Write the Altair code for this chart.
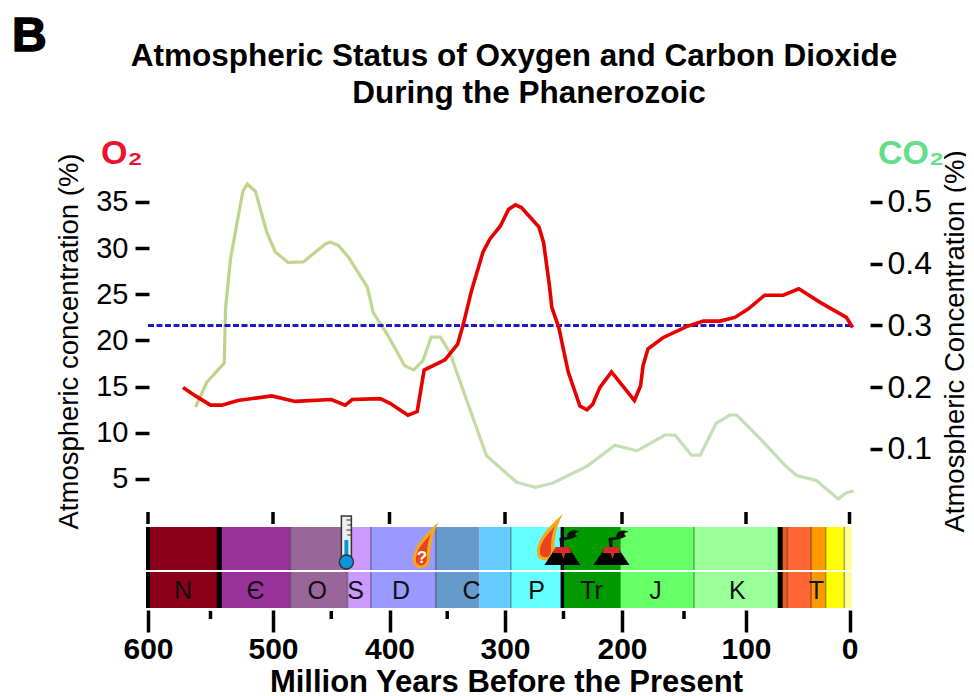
import altair as alt
import pandas as pd

FONT = "Liberation Sans"

# ---- series (million years ago, percent) ----
o2_age = [572,562,550,541,528,501,481,450,438,432,408,399.5,384,376,370,352,341,336,329,319,313,304,297,291,286,271,267,262,260,254,246,236,230,225,219,209,190,185,183,179,167,148,134.5,121,109,98,82,64,49,28,3,-3.7]
o2_val = [14.9,14.0,13.0,13.0,13.5,14.0,13.4,13.6,13.0,13.6,13.7,13.2,11.9,12.3,16.8,17.9,19.6,21.8,25.4,29.6,31.0,32.4,34.2,34.7,34.4,32.3,30.6,25.9,23.6,21.4,16.6,12.9,12.5,13.1,14.9,16.6,13.5,15.1,17.3,19.1,20.3,21.5,22.1,22.1,22.5,23.4,24.9,24.9,25.6,24.1,22.5,21.4]
co2_age = [562,553,539,538,534,529,524,520.5,514,505,498,487,474,455,451,444,435,419,414,402,387,379,371,364,356,348,316,290,274,259,230,206,188,165,157,144,137,124,113,107.5,86,62,51,32,11,3,-5]
co2_val = [.168,.208,.239,.327,.408,.464,.518,.529,.517,.451,.419,.402,.403,.432,.435,.430,.410,.362,.321,.286,.235,.228,.243,.281,.281,.257,.089,.046,.038,.045,.072,.106,.097,.123,.122,.090,.090,.142,.155,.155,.116,.073,.057,.049,.019,.029,.032]
ref_age = [600, -5]
ref_val = [0.3, 0.3]

# ---- geologic time scale ----
edges = [602,543,485,436,416,360,322,295,251,201,142,67,60,37,23,5,-3]
fills = ["#8a0018","#993399","#996699","#cc99ff","#9999ff","#6699cc","#66ccff","#66ffff","#009900","#66ff66","#99ff99","#e65c20","#ff6633","#ff9900","#ffff00","#ffff99"]
letters = ["N","Є","O","S","D","C","P","Tr","J","K","T"]
letter_age = [572,514,462,429,390,329,273,226,173,107,32]
thick_age = [600,543,251,67]
thick_w = [4,5,3.5,5]
thin_age = [485,436,416,360,295,142,60,37,23,5]

major = [600,500,400,300,200,100,0]
minor = [550,450,350,250,150]
o2_ticks = [5,10,15,20,25,30,35]
co2_ticks = [0.1,0.2,0.3,0.4,0.5]
title_lines = ["Atmospheric Status of Oxygen and Carbon Dioxide","During the Phanerozoic"]

x_scale = alt.Scale(domain=[602,600,500,400,300,200,100,0,-3],
                    range=[0,2,127,243.5,359,476,600,703.5,706],
                    nice=False, zero=False)
o2_scale = alt.Scale(domain=[2.29,37.49], nice=False, zero=False)
co2_scale = alt.Scale(domain=[0.0109,0.5372], nice=False, zero=False)
band = alt.Scale(domain=[0,1], nice=False, zero=False)

W, H1, H2 = 706, 325, 81

green = alt.Gradient(gradient="linear", x1=0, x2=1, y1=0, y2=0,
    stops=[alt.GradientStop(color="#bdd387", offset=0),
           alt.GradientStop(color="#c0d892", offset=0.35),
           alt.GradientStop(color="#c2dfb6", offset=0.5),
           alt.GradientStop(color="#c2dfb6", offset=1)])

co2_line = alt.Chart(pd.DataFrame({"age":co2_age,"v":co2_val})).mark_line(color=green, strokeWidth=3.2).encode(
    x=alt.X("age:Q", scale=x_scale, axis=None),
    y=alt.Y("v:Q", scale=co2_scale, axis=alt.Axis(
        orient="right", values=co2_ticks, format=".1f", grid=False, domain=False,
        offset=18, tickSize=12, tickWidth=3.5, tickColor="#000",
        labelFont=FONT, labelFontSize=32, labelColor="#000", labelPadding=5,
        title="Atmospheric Concentration (%)", titleFont=FONT, titleFontSize=27.5,
        titleFontWeight="normal", titleColor="#000", titleX=99, titleY=162, titleAngle=270)))

ref_line = alt.Chart(pd.DataFrame({"age":ref_age,"v":ref_val})).mark_line(color="#1a1ac8", strokeWidth=3, strokeDash=[6,2.5]).encode(
    x=alt.X("age:Q", scale=x_scale, axis=None),
    y=alt.Y("v:Q", scale=co2_scale, axis=None))

o2_line = alt.Chart(pd.DataFrame({"age":o2_age,"v":o2_val})).mark_line(color="#e60000", strokeWidth=3.6).encode(
    x=alt.X("age:Q", scale=x_scale, axis=None),
    y=alt.Y("v:Q", scale=o2_scale, axis=alt.Axis(
        orient="left", values=o2_ticks, grid=False, domain=False,
        offset=-3, tickSize=14, tickWidth=3.5, tickColor="#000",
        labelFont=FONT, labelFontSize=29, labelColor="#000", labelPadding=7,
        title="Atmospheric concentration (%)", titleFont=FONT, titleFontSize=27.5,
        titleFontWeight="normal", titleColor="#000", titleX=-66, titleY=162, titleAngle=270)))

o2_lab = alt.Chart(pd.DataFrame({"t":["O₂"]})).mark_text(font=FONT, fontSize=34, fontWeight="bold", color="#ee1133", align="left", baseline="middle").encode(
    text="t:N", x=alt.value(-45), y=alt.value(-25))
co2_lab = alt.Chart(pd.DataFrame({"t":["CO₂"]})).mark_text(font=FONT, fontSize=34, fontWeight="bold", color="#66dd88", align="left", baseline="middle").encode(
    text="t:N", x=alt.value(732), y=alt.value(-25))
b_lab = alt.Chart(pd.DataFrame({"t":["B"]})).mark_text(font=FONT, fontSize=48, fontWeight="bold", stroke="#000", strokeWidth=1.5, color="#000", align="left", baseline="middle").encode(
    text="t:N", x=alt.value(-134), y=alt.value(-142))
t1 = alt.Chart(pd.DataFrame({"t":title_lines[:1]})).mark_text(font=FONT, fontSize=31.5, fontWeight="bold", color="#000", baseline="middle").encode(
    text="t:N", x=alt.value(368), y=alt.value(-122))
t2 = alt.Chart(pd.DataFrame({"t":title_lines[1:]})).mark_text(font=FONT, fontSize=31.5, fontWeight="bold", color="#000", baseline="middle").encode(
    text="t:N", x=alt.value(383), y=alt.value(-85))

main = alt.layer(co2_line, ref_line, o2_line, o2_lab, co2_lab, b_lab, t1, t2).resolve_scale(y="independent").properties(
    width=W, height=H1)

# ---- time-scale strip ----
rect_df = pd.DataFrame({"a":edges[:-1],"b":edges[1:],"f":fills,"y0":[0]*len(fills),"y1":[1]*len(fills)})
rects = alt.Chart(rect_df).mark_rect().encode(
    x=alt.X("a:Q", scale=x_scale, axis=alt.Axis(
        values=major, format="d", grid=False, domain=False, offset=2, orient="bottom",
        tickSize=22, tickWidth=3.5, tickColor="#000",
        labelFont=FONT, labelFontSize=30, labelFontWeight="bold", labelColor="#000", labelPadding=2, labelFlush=False,
        title="Million Years Before the Present", titleFont=FONT, titleFontSize=31, titleFontWeight="bold",
        titleColor="#000", titleX=360, titleY=72, titleBaseline="middle")),
    x2="b:Q",
    y=alt.Y("y0:Q", scale=band, axis=None), y2="y1:Q",
    color=alt.Color("f:N", scale=None))

thin = alt.Chart(pd.DataFrame({"age":thin_age})).mark_rule(color="#000", opacity=0.35, strokeWidth=1.5).encode(
    x=alt.X("age:Q", scale=x_scale, axis=None), y=alt.value(0), y2=alt.value(H2))
thick = alt.Chart(pd.DataFrame({"age":thick_age,"w":thick_w})).mark_rule(color="#000").encode(
    x=alt.X("age:Q", scale=x_scale, axis=None), y=alt.value(0), y2=alt.value(H2),
    strokeWidth=alt.StrokeWidth("w:Q", scale=None))
white = alt.Chart(pd.DataFrame({"v":[0.457]})).mark_rule(color="#ffffff", strokeWidth=2).encode(
    y=alt.Y("v:Q", scale=band, axis=None))
text = alt.Chart(pd.DataFrame({"t":letters,"age":letter_age,"v":[0.21]*len(letters)})).mark_text(
    font=FONT, fontSize=25, color="#111", baseline="middle").encode(
    text="t:N", x=alt.X("age:Q", scale=x_scale, axis=None), y=alt.Y("v:Q", scale=band, axis=None))
top_ticks = alt.Chart(pd.DataFrame({"age":major})).mark_rule(color="#000", strokeWidth=3.5).encode(
    x=alt.X("age:Q", scale=x_scale, axis=None), y=alt.value(-15), y2=alt.value(-3))
min_ticks = alt.Chart(pd.DataFrame({"age":minor})).mark_rule(color="#000", strokeWidth=3.5).encode(
    x=alt.X("age:Q", scale=x_scale, axis=None), y=alt.value(H2+3), y2=alt.value(H2+11))

def icon(age, level, path, fill, stroke=None, sw=0):
    kw = {"stroke": stroke, "strokeWidth": sw} if stroke else {"strokeWidth": 0}
    return alt.Chart(pd.DataFrame({"age":age,"v":level})).mark_point(
        shape=path, size=4, filled=True, fill=fill, opacity=1, **kw).encode(
        x=alt.X("age:Q", scale=x_scale, axis=None),
        y=alt.Y("v:Q", scale=band, axis=None))

TUBE = "M-5,-46 L5,-46 L5,0 L-5,0 Z"
MERC = "M-2,-22 L2,-22 L2,0 L-2,0 Z"
BULB = "M-7,0 A7,7 0 1,0 7,0 A7,7 0 1,0 -7,0 Z"
MARKS = "M0,-42 L5,-42 M1,-37 L5,-37 M0,-32 L5,-32 M1,-27 L5,-27"
C_OUT = "M-9,5 C-10,-8 4,-23 17,-34 C9,-20 9,-8 8,4 C6,15 -8,15 -9,5 Z"
C_IN = "M-6,5 C-7,-6 3,-15 9,-22 C5,-12 5,-4 5,4 C4,11 -5,11 -6,5 Z"
V_BODY = "M-18,0 L-6,-18 L6,-18 L18,0 Z"
V_LAVA = "M-7,-18 L7,-18 L9,-12 L3,-12 L1,-6 L-1,-12 L-9,-12 Z"
V_SMOKE = "M-2,-18 L-3,-27 L5,-28 C4,-34 12,-36 17,-33 C12,-33 12,-30 15,-29 C10,-26 4,-25 1,-25 L1,-18 Z"

therm_age, therm_v = [437], [0.568]
comet_age, comet_v = [372, 265], [0.642, 0.741]
volc_age, volc_v = [251, 209], [0.531, 0.531]

q = alt.Chart(pd.DataFrame({"t":["?"],"age":[372],"v":[0.62]})).mark_text(
    font=FONT, fontSize=17, fontWeight="bold", color="#fff", baseline="middle").encode(
    text="t:N", x=alt.X("age:Q", scale=x_scale, axis=None), y=alt.Y("v:Q", scale=band, axis=None))

strip = alt.layer(
    rects, thin, thick, white, text, top_ticks, min_ticks,
    icon(therm_age, therm_v, TUBE, "#eeeeee", "#333333", 1.5),
    icon(therm_age, therm_v, MARKS, "#333333", "#333333", 1),
    icon(therm_age, therm_v, MERC, "#0a96dc"),
    icon(therm_age, therm_v, BULB, "#0a96dc", "#333333", 1.5),
    icon(comet_age, comet_v, C_OUT, "#f5a81e"),
    icon(comet_age, comet_v, C_IN, "#e8451e"),
    q,
    icon(volc_age, volc_v, V_BODY, "#000000"),
    icon(volc_age, volc_v, V_LAVA, "#d92a2a"),
    icon(volc_age, volc_v, V_SMOKE, "#111111"),
).resolve_axis(x="independent").properties(width=W, height=H2)

chart = alt.vconcat(main, strip, spacing=23, bounds="flush").configure_view(stroke=None).properties(
    padding={"left":4,"top":5,"right":-3,"bottom":0}, background="#ffffff")

chart.save("out.html", embed_options={"renderer": "svg", "actions": False})
